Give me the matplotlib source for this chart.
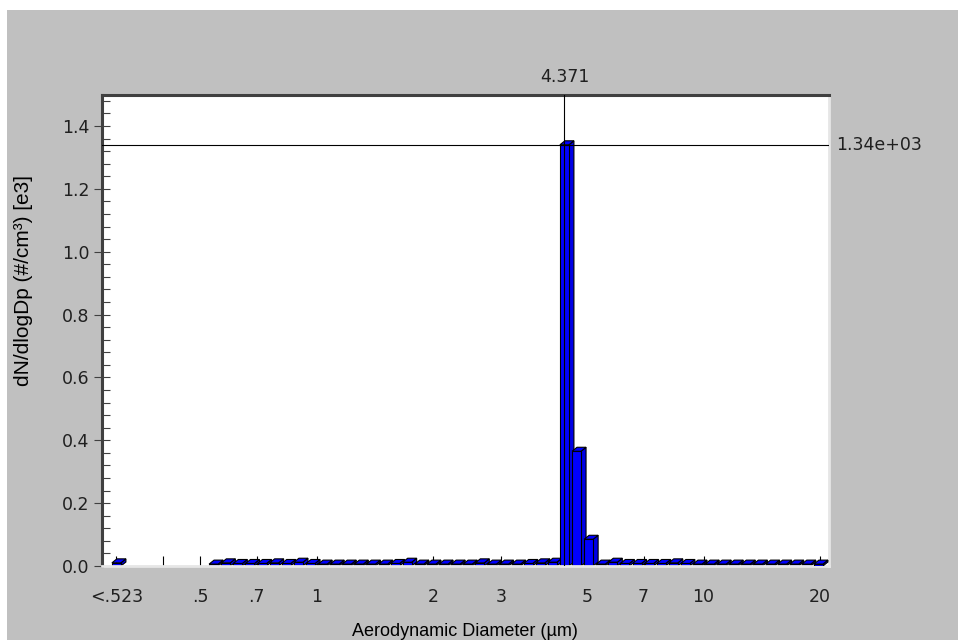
import matplotlib
matplotlib.use("Agg")
import matplotlib.pyplot as plt
import numpy as np
from matplotlib.patches import Polygon, Rectangle
from matplotlib.ticker import NullLocator, MultipleLocator, FixedLocator

plt.rcParams['font.family'] = ['DejaVu Sans']

# ---- data ----
under_label = "<.523"
under_pos = 0.304
under_value = 0.010

channels = [0.542, 0.583, 0.626, 0.673, 0.723, 0.777, 0.835, 0.898, 0.965, 1.037,
            1.114, 1.197, 1.286, 1.382, 1.486, 1.596, 1.715, 1.843, 1.981, 2.129,
            2.288, 2.458, 2.642, 2.839, 3.051, 3.278, 3.523, 3.786, 4.068, 4.371,
            4.698, 5.048, 5.425, 5.829, 6.264, 6.732, 7.234, 7.774, 8.354, 8.977,
            9.647, 10.37, 11.14, 11.97, 12.86, 13.82, 14.86, 15.96, 17.15, 18.43,
            19.81]
values = [0.006, 0.010, 0.008, 0.008, 0.008, 0.010, 0.008, 0.012, 0.008, 0.006,
          0.006, 0.006, 0.006, 0.006, 0.006, 0.008, 0.012, 0.006, 0.006, 0.006,
          0.006, 0.006, 0.010, 0.006, 0.006, 0.006, 0.008, 0.010, 0.012, 1.34,
          0.365, 0.085, 0.006, 0.012, 0.008, 0.008, 0.008, 0.008, 0.010, 0.008,
          0.006, 0.006, 0.006, 0.006, 0.006, 0.006, 0.006, 0.006, 0.006, 0.006,
          0.006]

xtick_pos = [under_pos, 0.4, 0.5, 0.7, 1, 2, 3, 5, 7, 10, 20]
xtick_labels = [under_label, "", ".5", ".7", "1", "2", "3", "5", "7", "10", "20"]
yticks = [0.0, 0.2, 0.4, 0.6, 0.8, 1.0, 1.2, 1.4]

cursor_x = 4.371
cursor_y = 1.34
cursor_x_label = "4.371"
cursor_y_label = "1.34e+03"

# ---- figure ----
W, H = 958, 640
fig = plt.figure(figsize=(W / 100, H / 100), dpi=100, facecolor='white')
fig.patches.append(Rectangle((7 / W, 0), 1 - 7 / W, (H - 10) / H,
                             transform=fig.transFigure, facecolor='#c0c0c0',
                             edgecolor='none', zorder=-5))

L, R, T, B = 101.5, 829.0, 94.5, 566.0
ax = fig.add_axes([L / W, (H - B) / H, (R - L) / W, (B - T) / H])
ax.set_zorder(1)
ax.set_facecolor('white')
ax.set_xscale('log')
ax.set_xlim(0.2782, 21.10)
ax.set_ylim(0, 1.5)

for s in ['left', 'top']:
    ax.spines[s].set_color('#404040')
    ax.spines[s].set_linewidth(2.2)
for s in ['right', 'bottom']:
    ax.spines[s].set_color('#e6e6e6')
    ax.spines[s].set_linewidth(2.0)

tick_fs = 12.5
ax.xaxis.set_major_locator(FixedLocator(xtick_pos))
ax.set_xticklabels(xtick_labels)
ax.xaxis.set_minor_locator(NullLocator())
ax.tick_params(axis='x', which='major', direction='in', length=7.5, width=0.8,
               color='black', labelsize=tick_fs, pad=16, labelcolor='#202020')

ax.set_yticks(yticks)
ax.set_yticklabels([f"{v:.1f}" for v in yticks])
ax.yaxis.set_minor_locator(MultipleLocator(0.04))
ax.tick_params(axis='y', which='major', direction='inout', length=11, width=0.8,
               color='#404040', labelsize=tick_fs, pad=3, labelcolor='#202020')
ax.tick_params(axis='y', which='minor', direction='in', length=6, width=0.8,
               color='#404040')

# ---- 3D style bars ----
half_dec = 4.5 / 387.0
dx_px, dy_px = 5.0, 4.0
trans = ax.transData
inv = trans.inverted()


def shift(pt):
    d = trans.transform([pt])[0]
    return tuple(inv.transform([d + np.array([dx_px, dy_px])])[0])


all_pos = [under_pos] + channels
all_val = [under_value] + values
for i, (c, h) in enumerate(zip(all_pos, all_val)):
    x0 = c * 10 ** (-half_dec)
    x1 = c * 10 ** (half_dec)
    fb0 = (x0, 0.0); fb1 = (x1, 0.0); ft1 = (x1, h); ft0 = (x0, h)
    bt0 = shift(ft0); bt1 = shift(ft1); bb1 = shift(fb1)
    z = 2 + i * 0.01
    kw = dict(edgecolor='black', linewidth=0.8, joinstyle='miter', zorder=z)
    ax.add_patch(Polygon([fb1, bb1, bt1, ft1], closed=True, facecolor='#0000e6', **kw))
    ax.add_patch(Polygon([ft0, ft1, bt1, bt0], closed=True, facecolor='#0000ff', **kw))
    ax.add_patch(Polygon([fb0, fb1, ft1, ft0], closed=True, facecolor='#0000ff', **kw))

# ---- cursor lines ----
ax.axvline(cursor_x, color='black', linewidth=0.8, zorder=10)
ax.axhline(cursor_y, color='black', linewidth=0.8, zorder=10)
ax.annotate(cursor_x_label, xy=(cursor_x, 1.0), xycoords=('data', 'axes fraction'),
            xytext=(0, 17), textcoords='offset pixels', ha='center', va='center',
            fontsize=tick_fs, color='#202020', annotation_clip=False)
ax.annotate(cursor_y_label, xy=(1.0, cursor_y), xycoords=('axes fraction', 'data'),
            xytext=(7, 0), textcoords='offset pixels', ha='left', va='center',
            fontsize=tick_fs, color='#202020', annotation_clip=False)

# ---- axis titles ----
fig.text(24 / W, 1 - 280 / H, "dN/dlogDp (#/cm³) [e3]", rotation=90,
         ha='center', va='center', fontsize=15, color='black',
         family=['Liberation Sans', 'DejaVu Sans'])
fig.text(465 / W, 1 - 632 / H, "Aerodynamic Diameter (µm)", ha='center', va='center',
         fontsize=13, color='black', family=['Liberation Sans', 'DejaVu Sans'])

fig.savefig("out.png", dpi=100, facecolor=fig.get_facecolor())
